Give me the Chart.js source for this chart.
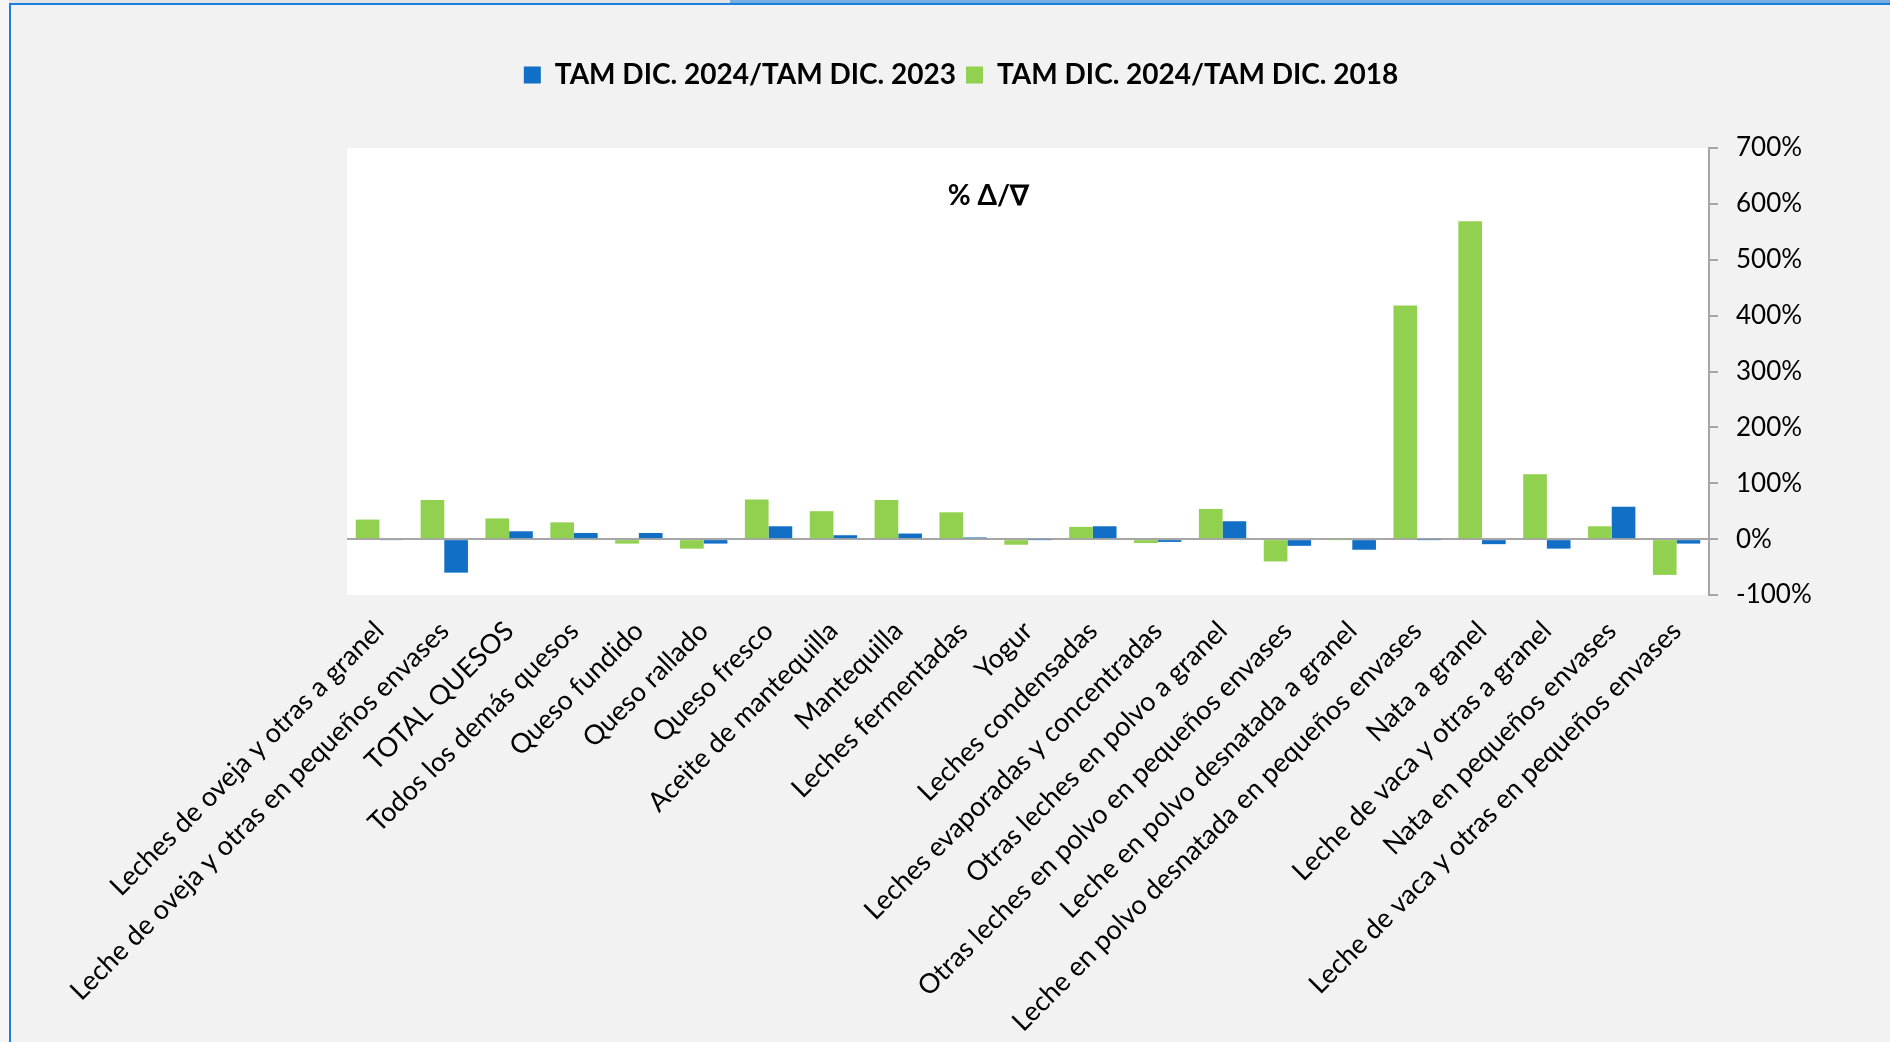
<!DOCTYPE html>
<html lang="es">
<head>
<meta charset="utf-8">
<title>% Δ/∇</title>
<script src="https://cdn.jsdelivr.net/npm/chart.js@4.4.1/dist/chart.umd.min.js"></script>
<style>
  html, body { margin: 0; padding: 0; background: #f2f2f2; overflow: hidden; }
  #frame { position: relative; width: 1890px; height: 1042px; }
  #chart { position: absolute; left: 0; top: 0; }
  .edge { position: absolute; pointer-events: none; }
</style>
</head>
<body>
<div id="frame">
  <canvas id="chart" width="1890" height="1042"></canvas>
  <div class="edge" style="left:0;top:0;width:9px;height:1042px;background:#f6f6f6"></div>
  <div class="edge" style="left:9px;top:0;width:721px;height:3px;background:#e4e4e4"></div>
  <div class="edge" style="left:730px;top:0;width:1160px;height:3px;background:#78ade2"></div>
  <div class="edge" style="left:9px;top:3px;width:1881px;height:2px;background:#1b7fe0"></div>
  <div class="edge" style="left:9px;top:3px;width:2px;height:1039px;background:#1b7fe0"></div>
</div>
<script>
// categories, left to right
const categories = [
  "Leches de oveja y otras a granel",
  "Leche de oveja y otras en pequeños envases",
  "TOTAL QUESOS",
  "Todos los demás quesos",
  "Queso fundido",
  "Queso rallado",
  "Queso fresco",
  "Aceite de mantequilla",
  "Mantequilla",
  "Leches fermentadas",
  "Yogur",
  "Leches condensadas",
  "Leches evaporadas y concentradas",
  "Otras leches en polvo a granel",
  "Otras leches en polvo en pequeños envases",
  "Leche en polvo desnatada a granel",
  "Leche en polvo desnatada en pequeños envases",
  "Nata a granel",
  "Leche de vaca y otras a granel",
  "Nata en pequeños envases",
  "Leche de vaca y otras en pequeños envases"
]

// % change, TAM DIC. 2024 vs TAM DIC. 2018 (green)
const vs2018 = [35, 70, 37, 30, -8, -17, 71, 50, 70, 48, -10, 22, -7, 54, -40, -1, 418, 569, 116, 23, -64]

// % change, TAM DIC. 2024 vs TAM DIC. 2023 (blue)
const vs2023 = [-2, -60, 14, 11, 11, -8, 23, 7, 10, 3, -1, 23, -5, 32, -12, -19, -1, -9, -17, 58, -8]

const seriesNames = ["TAM DIC. 2024/TAM DIC. 2023", "TAM DIC. 2024/TAM DIC. 2018"]
const yMin = -100
const yMax = 700
const yStep = 100

const GREEN = "#92d050"
const BLUE = "#1170c6"
const AXIS_GREY = "#a6a6a6"

// white plot area
const plotBackground = {
  id: "plotBackground",
  beforeDraw(chart) {
    const { ctx, chartArea } = chart
    ctx.save()
    ctx.fillStyle = "#ffffff"
    ctx.fillRect(chartArea.left, chartArea.top, chartArea.right - chartArea.left, chartArea.bottom - chartArea.top)
    ctx.restore()
  }
}

// title sits inside the plot area
const innerTitle = {
  id: "innerTitle",
  afterDraw(chart) {
    const { ctx, chartArea } = chart
    ctx.save()
    ctx.font = "bold 28px Lato"
    ctx.fillStyle = "#000000"
    ctx.textAlign = "center"
    ctx.textBaseline = "middle"
    ctx.fillText("% Δ/∇", chartArea.left + chartArea.width * 0.471, chartArea.top + 48)
    ctx.restore()
  }
}

// leave room between legend and plot
const legendGap = {
  id: "legendGap",
  beforeLayout(chart) {
    const legend = chart.legend
    if (!legend || legend._gapPatched) return
    const fit = legend.fit
    legend.fit = function () {
      fit.call(this)
      this.height = 97
    }
    legend._gapPatched = true
  }
}

new Chart(document.getElementById("chart"), {
  type: "bar",
  data: {
    labels: categories,
    datasets: [
      { label: seriesNames[1], data: vs2018, backgroundColor: GREEN, borderWidth: 0 },
      { label: seriesNames[0], data: vs2023, backgroundColor: BLUE, borderWidth: 0 }
    ]
  },
  options: {
    responsive: false,
    animation: false,
    categoryPercentage: 0.73,
    barPercentage: 1,
    layout: { padding: { left: 32, right: 0, top: 51, bottom: 0 } },
    plugins: {
      legend: {
        position: "top",
        reverse: true,
        labels: {
          font: { family: "Lato", size: 28, weight: "bold" },
          color: "#000000",
          boxWidth: 17,
          boxHeight: 17,
          padding: 10
        }
      },
      tooltip: { enabled: false },
      title: { display: false }
    },
    scales: {
      x: {
        grid: { display: false },
        border: { display: false },
        ticks: {
          autoSkip: false,
          maxRotation: 45,
          minRotation: 45,
          padding: 12,
          color: "#000000",
          font: { family: "Lato", size: 27 }
        },
        afterFit(scale) {
          scale.height = 447
          scale.paddingLeft = 347
        }
      },
      y: {
        position: "right",
        min: yMin,
        max: yMax,
        z: 1,
        ticks: {
          stepSize: yStep,
          padding: 18,
          color: "#000000",
          font: { family: "Lato", size: 26 },
          callback: (v) => v + "%"
        },
        grid: {
          drawOnChartArea: true,
          color: (ctx) => (ctx.tick && ctx.tick.value === 0 ? AXIS_GREY : "rgba(0,0,0,0)"),
          lineWidth: 2,
          tickColor: AXIS_GREY,
          tickLength: 9,
          tickWidth: 2
        },
        border: { color: AXIS_GREY, width: 2 },
        afterFit(scale) {
          scale.width = 181
        }
      }
    }
  },
  plugins: [plotBackground, innerTitle, legendGap]
})
</script>
</body>
</html>
